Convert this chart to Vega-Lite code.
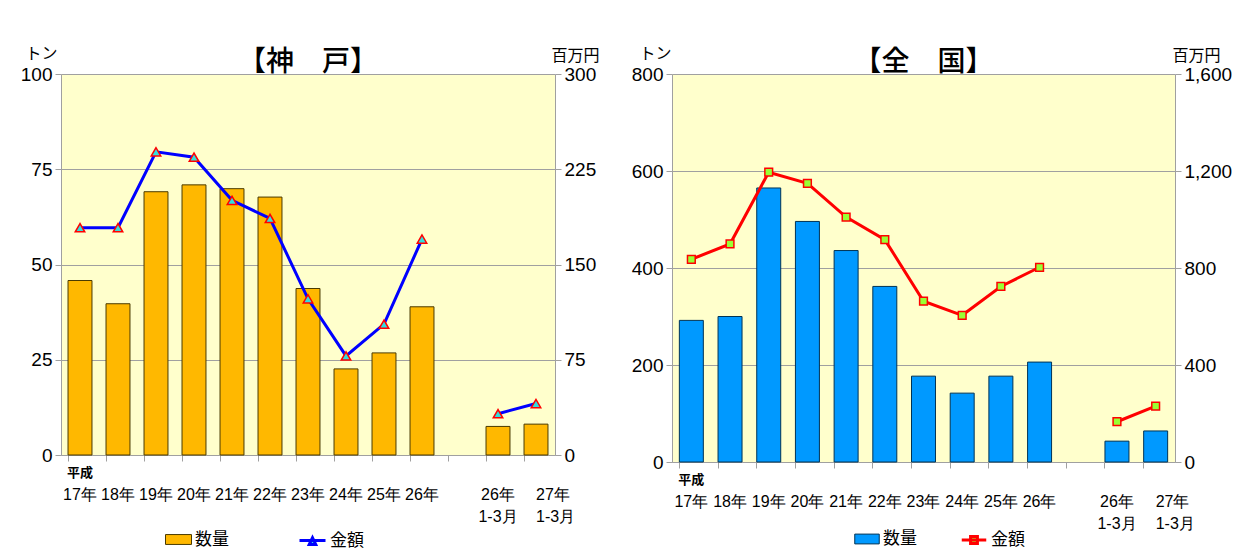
{
  "$schema": "https://vega.github.io/schema/vega-lite/v6.json",
  "padding": {"left": 20, "top": 45, "right": 5, "bottom": 0},
  "background": "white",
  "config": {
    "font": "Noto Sans CJK JP",
    "view": {"fill": "#FFFFCC", "stroke": null},
    "axis": {
      "labelFont": "Liberation Sans",
      "labelFontSize": 19,
      "labelColor": "#000000",
      "domainColor": "#A0A0A0",
      "tickColor": "#A0A0A0",
      "gridColor": "#A0A0A0",
      "titleFont": "Noto Sans CJK JP",
      "titleFontSize": 16,
      "titleFontWeight": "normal",
      "titleColor": "#000000"
    },
    "title": {"font": "Noto Sans CJK JP", "fontSize": 28, "fontWeight": 500, "color": "#000000"},
    "legend": {"labelFont": "Noto Sans CJK JP", "labelFontSize": 17, "labelColor": "#000000", "title": null, "orient": "none", "direction": "horizontal", "labelOffset": 3}
  },
  "datasets": {
    "kobe": [
      {"k": "H17", "qty": 45.8, "amt": 179, "g": "a"},
      {"k": "H18", "qty": 39.7, "amt": 179, "g": "a"},
      {"k": "H19", "qty": 69.1, "amt": 238.7, "g": "a"},
      {"k": "H20", "qty": 70.9, "amt": 234.5, "g": "a"},
      {"k": "H21", "qty": 69.9, "amt": 200.5, "g": "a"},
      {"k": "H22", "qty": 67.7, "amt": 186.3, "g": "a"},
      {"k": "H23", "qty": 43.7, "amt": 123, "g": "a"},
      {"k": "H24", "qty": 22.6, "amt": 78, "g": "a"},
      {"k": "H25", "qty": 26.8, "amt": 103, "g": "a"},
      {"k": "H26", "qty": 38.9, "amt": 170, "g": "a"},
      {"k": "Q26", "qty": 7.5, "amt": 32.5, "g": "b"},
      {"k": "Q27", "qty": 8.1, "amt": 40.5, "g": "b"}
    ],
    "zenkoku": [
      {"k": "H17", "qty": 292, "amt": 836, "g": "a"},
      {"k": "H18", "qty": 300, "amt": 899, "g": "a"},
      {"k": "H19", "qty": 565, "amt": 1195, "g": "a"},
      {"k": "H20", "qty": 496, "amt": 1149, "g": "a"},
      {"k": "H21", "qty": 436, "amt": 1010, "g": "a"},
      {"k": "H22", "qty": 362, "amt": 917, "g": "a"},
      {"k": "H23", "qty": 177, "amt": 663, "g": "a"},
      {"k": "H24", "qty": 142, "amt": 605, "g": "a"},
      {"k": "H25", "qty": 177, "amt": 724, "g": "a"},
      {"k": "H26", "qty": 206, "amt": 803, "g": "a"},
      {"k": "Q26", "qty": 43, "amt": 166, "g": "b"},
      {"k": "Q27", "qty": 64, "amt": 230, "g": "b"}
    ]
  },
  "spacing": 31,
  "resolve": {"scale": {"fill": "independent", "stroke": "independent"}, "legend": {"fill": "independent", "stroke": "independent"}},
  "hconcat": [
    {
      "width": 494,
      "height": 381,
      "title": {"text": "【神　戸】", "offset": -32},
      "data": {"name": "kobe"},
      "resolve": {"scale": {"y": "independent"}, "axis": {"x": "independent", "y": "independent"}},
      "layer": [
        {
          "mark": {"type": "bar", "stroke": "#4A3A00", "strokeWidth": 1},
          "encoding": {
            "x": {
              "field": "k", "type": "nominal", "sort": null,
              "scale": {"domain": ["H17","H18","H19","H20","H21","H22","H23","H24","H25","H26","GAP","Q26","Q27"], "paddingInner": 0.37, "paddingOuter": 0.185},
              "axis": {"orient": "bottom", "title": null, "ticks": false, "domain": true, "labelPadding": 31, "labelFont": "Liberation Sans", "labelFontSize": 16, "labelLineHeight": 22, "labelAngle": 0,
                "labelAlign": {"condition": {"test": "datum.value == 'Q27'", "value": "left"}, "value": "center"},
                "labelExpr": "datum.value == 'GAP' ? '' : (substring(datum.value, 0, 1) == 'Q' ? [substring(datum.value, 1) + '年', '1-3月'] : substring(datum.value, 1) + '年')"}
            },
            "y": {
              "field": "qty", "type": "quantitative",
              "scale": {"domain": [0, 100]},
              "axis": {"orient": "left", "values": [0, 25, 50, 75, 100], "grid": true, "title": "トン", "titleAngle": 0, "titleAlign": "center", "titleBaseline": "bottom", "titleX": -20, "titleY": -13, "tickSize": 6, "labelPadding": 3}
            },
            "fill": {"datum": "数量", "scale": {"domain": ["数量"], "range": ["#FFB800"]},
              "legend": {"legendX": 104, "legendY": 452, "symbolSize": 676, "symbolType": "M-1,-0.38H1V0.38H-1Z", "symbolStrokeColor": "#4A3A00", "symbolStrokeWidth": 1}
            }
          }
        },
        {
          "mark": {"type": "line", "strokeWidth": 3},
          "encoding": {
            "x": {"field": "k", "type": "nominal", "sort": null,
              "axis": {"orient": "bottom", "title": null, "labels": false, "domain": false, "ticks": true, "tickSize": 6, "bandPosition": 0, "grid": false}},
            "y": {"field": "amt", "type": "quantitative", "scale": {"domain": [0, 300]},
              "axis": {"orient": "right", "values": [0, 75, 150, 225, 300], "grid": false, "title": "百万円", "titleAngle": 0, "titleAlign": "center", "titleBaseline": "bottom", "titleX": 20, "titleY": -11, "tickSize": 6, "labelPadding": 3}},
            "stroke": {"datum": "金額", "scale": {"domain": ["金額"], "range": ["#0000FF"]},
              "legend": {"legendX": 237, "legendY": 452, "symbolSize": 676, "symbolType": "M-1,0H1M-0.25,0.3L0,-0.22L0.25,0.3Z", "symbolFillColor": "#33DDDD", "symbolStrokeWidth": 3}
            },
            "detail": {"field": "g"}
          }
        },
        {
          "mark": {"type": "point", "shape": "triangle-up", "filled": true, "fill": "#33DDDD", "stroke": "#FF0000", "strokeWidth": 1.5, "size": 90, "opacity": 1},
          "encoding": {
            "x": {"field": "k", "type": "nominal", "sort": null,
              "axis": {"orient": "bottom", "title": null, "ticks": false, "domain": false, "grid": false, "labelPadding": 11, "labelFont": "Noto Sans CJK JP", "labelFontSize": 13, "labelFontWeight": "bold", "labelAngle": 0,
                "labelExpr": "datum.value == 'H17' ? '平成' : ''"}},
            "y": {"field": "amt", "type": "quantitative", "scale": {"domain": [0, 300]}, "axis": null}
          }
        }
      ]
    },
    {
      "width": 503,
      "height": 388,
      "title": {"text": "【全　国】", "offset": -32},
      "data": {"name": "zenkoku"},
      "resolve": {"scale": {"y": "independent"}, "axis": {"x": "independent", "y": "independent"}},
      "layer": [
        {
          "mark": {"type": "bar", "stroke": "#003355", "strokeWidth": 1},
          "encoding": {
            "x": {
              "field": "k", "type": "nominal", "sort": null,
              "scale": {"domain": ["H17","H18","H19","H20","H21","H22","H23","H24","H25","H26","GAP","Q26","Q27"], "paddingInner": 0.38, "paddingOuter": 0.19},
              "axis": {"orient": "bottom", "title": null, "ticks": false, "domain": true, "labelPadding": 31, "labelFont": "Liberation Sans", "labelFontSize": 16, "labelLineHeight": 22, "labelAngle": 0,
                "labelAlign": {"condition": {"test": "datum.value == 'Q27'", "value": "left"}, "value": "center"},
                "labelExpr": "datum.value == 'GAP' ? '' : (substring(datum.value, 0, 1) == 'Q' ? [substring(datum.value, 1) + '年', '1-3月'] : substring(datum.value, 1) + '年')"}
            },
            "y": {
              "field": "qty", "type": "quantitative",
              "scale": {"domain": [0, 800]},
              "axis": {"orient": "left", "values": [0, 200, 400, 600, 800], "grid": true, "title": "トン", "titleAngle": 0, "titleAlign": "center", "titleBaseline": "bottom", "titleX": -17, "titleY": -13, "tickSize": 6, "labelPadding": 3}
            },
            "fill": {"datum": "数量", "scale": {"domain": ["数量"], "range": ["#0099FF"]},
              "legend": {"legendX": 182, "legendY": 452, "symbolSize": 600, "symbolType": "M-1,-0.4H1V0.4H-1Z", "symbolStrokeColor": "#003355", "symbolStrokeWidth": 1}
            }
          }
        },
        {
          "mark": {"type": "line", "strokeWidth": 3},
          "encoding": {
            "x": {"field": "k", "type": "nominal", "sort": null,
              "axis": {"orient": "bottom", "title": null, "labels": false, "domain": false, "ticks": true, "tickSize": 6, "bandPosition": 0, "grid": false}},
            "y": {"field": "amt", "type": "quantitative", "scale": {"domain": [0, 1600]},
              "axis": {"orient": "right", "values": [0, 400, 800, 1200, 1600], "format": ",.0f", "grid": false, "title": "百万円", "titleAngle": 0, "titleAlign": "center", "titleBaseline": "bottom", "titleX": 21, "titleY": -11, "tickSize": 6, "labelPadding": 3}},
            "stroke": {"datum": "金額", "scale": {"domain": ["金額"], "range": ["#FF0000"]},
              "legend": {"legendX": 288, "legendY": 452, "symbolSize": 600, "symbolType": "M-1,0H1M-0.28,-0.28H0.28V0.28H-0.28Z", "symbolFillColor": "#99FF33", "symbolStrokeWidth": 3}
            },
            "detail": {"field": "g"}
          }
        },
        {
          "mark": {"type": "point", "shape": "square", "filled": true, "fill": "#99FF33", "stroke": "#FF0000", "strokeWidth": 1.5, "size": 60, "opacity": 1},
          "encoding": {
            "x": {"field": "k", "type": "nominal", "sort": null,
              "axis": {"orient": "bottom", "title": null, "ticks": false, "domain": false, "grid": false, "labelPadding": 11, "labelFont": "Noto Sans CJK JP", "labelFontSize": 13, "labelFontWeight": "bold", "labelAngle": 0,
                "labelExpr": "datum.value == 'H17' ? '平成' : ''"}},
            "y": {"field": "amt", "type": "quantitative", "scale": {"domain": [0, 1600]}, "axis": null}
          }
        }
      ]
    }
  ]
}
